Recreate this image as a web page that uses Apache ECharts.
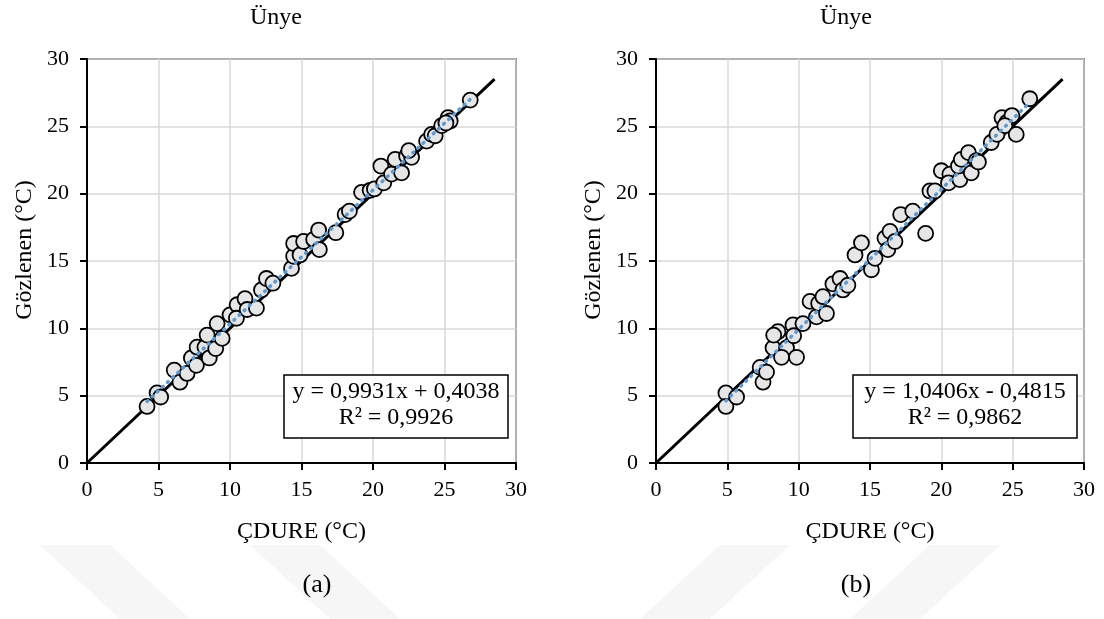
<!DOCTYPE html>
<html>
<head>
<meta charset="utf-8">
<script src="https://cdn.jsdelivr.net/npm/echarts@6/dist/echarts.min.js"></script>
<style>html,body{margin:0;padding:0;background:#fff}#c{width:1104px;height:619px}</style>
</head>
<body>
<div id="c"></div>
<script>
// ---- data ----
const titleA = 'Ünye';
const titleB = 'Ünye';
const xName = 'ÇDURE (°C)';
const yName = 'Gözlenen (°C)';
const pointsA = [
  [4.2,4.2],[4.9,5.2],[5.15,4.9],[6.1,6.9],[6.5,6.0],[7.0,6.65],[7.3,7.8],[7.7,8.6],
  [7.65,7.25],[8.25,8.6],[8.4,9.5],[8.55,7.8],[9.0,8.5],[9.1,10.35],[9.45,9.25],
  [10.0,11.0],[10.5,11.75],[10.45,10.75],[11.05,12.2],[11.2,11.4],[11.85,11.5],
  [12.2,12.85],[12.55,13.7],[13.0,13.35],[14.3,14.45],[14.45,15.35],[14.45,16.3],
  [14.9,15.45],[15.15,16.45],[15.85,16.6],[16.2,17.3],[16.25,15.85],[17.4,17.1],
  [18.05,18.45],[18.35,18.7],[19.2,20.1],[19.8,20.25],[20.1,20.35],[20.55,22.05],
  [20.75,20.8],[21.3,21.45],[21.55,22.55],[22.0,21.55],[22.35,22.8],[22.7,22.7],
  [22.5,23.2],[23.75,23.9],[24.1,24.4],[24.35,24.3],[24.8,25.05],[25.25,25.65],
  [25.4,25.4],[25.1,25.25],[26.8,26.95]
];
const pointsB = [
  [4.9,5.2],[4.9,4.2],[5.65,4.9],[7.3,7.1],[7.5,6.0],[7.75,6.75],[8.2,8.55],[8.55,9.75],
  [8.25,9.5],[9.15,8.55],[8.8,7.85],[9.85,7.85],[9.6,10.25],[9.65,9.45],[10.3,10.35],
  [10.8,12.0],[11.25,10.85],[11.4,11.85],[11.95,11.1],[11.7,12.35],[12.4,13.3],[12.9,13.7],
  [13.1,12.85],[13.45,13.2],[13.95,15.45],[14.4,16.35],[15.1,14.35],[15.35,15.2],
  [16.05,16.7],[16.4,17.2],[16.25,15.85],[16.75,16.45],[17.15,18.45],[18.0,18.7],
  [18.9,17.05],[19.2,20.2],[19.55,20.2],[20.0,21.7],[20.6,21.45],[20.5,20.8],[21.3,21.05],
  [21.2,22.05],[21.4,22.55],[21.9,23.05],[22.1,21.55],[22.45,22.45],[22.6,22.35],
  [23.5,23.8],[23.9,24.4],[24.25,25.65],[24.6,25.3],[24.95,25.8],[24.45,25.05],
  [25.25,24.4],[26.2,27.05]
];
const fitA = [0.9931, 0.4038];   // slope, intercept
const fitB = [1.0406, -0.4815];
const eqA = ['y = 0,9931x + 0,4038', 'R² = 0,9926'];
const eqB = ['y = 1,0406x - 0,4815', 'R² = 0,9862'];
const oneToOne = [0, 28.5];
const panelLabels = ['(a)', '(b)'];

// ---- build ----
const FONT = '"Liberation Serif","Times New Roman",serif';
function trend(points, fit) {
  const xs = points.map(p => p[0]);
  const lo = Math.min(...xs), hi = Math.max(...xs);
  return [[lo, fit[0]*lo + fit[1]], [hi, fit[0]*hi + fit[1]]];
}
const grids = [
  {left: 87, top: 59, width: 429, height: 404},
  {left: 656, top: 59, width: 428, height: 404}
];
function xAx(i) {
  return {
    gridIndex: i, type: 'value', min: 0, max: 30, interval: 5,
    name: xName, nameLocation: 'middle', nameGap: 57,
    nameTextStyle: {fontFamily: FONT, fontSize: 24, color: '#000'},
    axisLine: {show: true, onZero: false, lineStyle: {color: '#000', width: 2}},
    axisTick: {show: true, inside: false, length: 7, lineStyle: {color: '#000', width: 2}},
    axisLabel: {fontFamily: FONT, fontSize: 22, color: '#000', margin: 16},
    splitLine: {show: true, lineStyle: {color: '#d9d9d9', width: 1.5}}
  };
}
function yAx(i) {
  return {
    gridIndex: i, type: 'value', min: 0, max: 30, interval: 5,
    name: yName, nameLocation: 'middle', nameGap: 50,
    nameTextStyle: {fontFamily: FONT, fontSize: 24, color: '#000', padding: [0, 0, 0, 22]},
    axisLine: {show: true, onZero: false, lineStyle: {color: '#000', width: 2}},
    axisTick: {show: true, inside: false, length: 7, lineStyle: {color: '#000', width: 2}},
    axisLabel: {fontFamily: FONT, fontSize: 22, color: '#000', margin: 18},
    splitLine: {show: true, lineStyle: {color: '#d9d9d9', width: 1.5}}
  };
}
function seriesFor(i, pts, fit) {
  return [
    {type: 'line', xAxisIndex: i, yAxisIndex: i, data: [[oneToOne[0], oneToOne[0]], [oneToOne[1], oneToOne[1]]],
     symbol: 'none', lineStyle: {color: '#000', width: 3}, z: 2, silent: true},
    {type: 'scatter', xAxisIndex: i, yAxisIndex: i, data: pts, symbolSize: 15,
     itemStyle: {color: '#e7e6e6', borderColor: '#000', borderWidth: 1.8, opacity: 1}, z: 3},
    {type: 'line', xAxisIndex: i, yAxisIndex: i, data: trend(pts, fit), symbol: 'none',
     lineStyle: {color: '#5b9bd5', width: 3.5, type: [1, 6], cap: 'round'}, z: 4, silent: true}
  ];
}
function eqBox(x, lines) {
  const w = 224, h = 63, y = 375;
  return [
    {type: 'rect', shape: {x: x, y: y, width: w, height: h}, z: 100,
     style: {fill: '#fff', stroke: '#000', lineWidth: 1.5}},
    {type: 'text', x: x + w / 2, y: y + 5, z: 101,
     style: {text: lines[0], font: '24px ' + FONT, fill: '#000', textAlign: 'center', textVerticalAlign: 'top'}},
    {type: 'text', x: x + w / 2, y: y + 31, z: 101,
     style: {text: lines[1], font: '24px ' + FONT, fill: '#000', textAlign: 'center', textVerticalAlign: 'top'}}
  ];
}
const stripes = [
  [[40,545],[110,545],[190,619],[120,619]],
  [[250,545],[320,545],[400,619],[330,619]],
  [[640,619],[710,619],[790,545],[720,545]],
  [[850,619],[920,619],[1000,545],[930,545]]
].map(pts => ({type: 'polygon', shape: {points: pts}, style: {fill: '#f6f6f6'}, z: -10, silent: true}));

const chart = echarts.init(document.getElementById('c'), null, {renderer: 'canvas'});
chart.setOption({
  animation: false,
  backgroundColor: '#fff',
  grid: grids.map(g => Object.assign({show: true, borderColor: '#000', borderWidth: 1.5, backgroundColor: 'transparent'}, g)),
  xAxis: [xAx(0), xAx(1)],
  yAxis: [yAx(0), yAx(1)],
  series: [...seriesFor(0, pointsA, fitA), ...seriesFor(1, pointsB, fitB)],
  graphic: [
    ...stripes,
    {type: 'text', x: 276, y: 6, style: {text: titleA, font: '24px ' + FONT, fill: '#000', textAlign: 'center'}},
    {type: 'text', x: 846, y: 6, style: {text: titleB, font: '24px ' + FONT, fill: '#000', textAlign: 'center'}},
    ...eqBox(284, eqA),
    ...eqBox(853, eqB),
    {type: 'text', x: 317, y: 572, style: {text: panelLabels[0], font: '26px ' + FONT, fill: '#000', textAlign: 'center'}},
    {type: 'text', x: 856, y: 572, style: {text: panelLabels[1], font: '26px ' + FONT, fill: '#000', textAlign: 'center'}}
  ]
});
</script>
</body>
</html>
